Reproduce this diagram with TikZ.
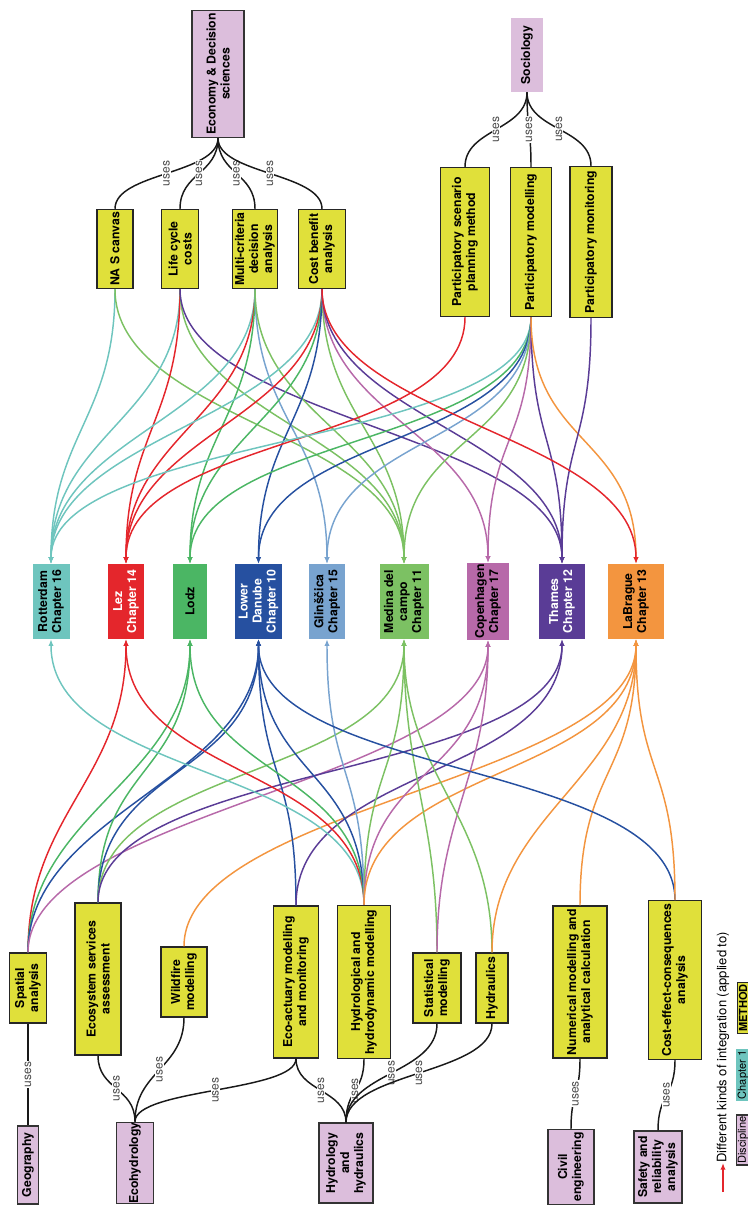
\documentclass[tikz,border=0pt]{standalone}
\usepackage{fontspec}
\setmainfont{TeX Gyre Heros}
\usetikzlibrary{arrows.meta}

\definecolor{discpink}{RGB}{220,190,220}
\definecolor{methyellow}{RGB}{224,224,58}
\definecolor{colrot}{RGB}{110,197,190}
\definecolor{collez}{RGB}{228,38,44}
\definecolor{collodz}{RGB}{75,182,100}
\definecolor{colldan}{RGB}{38,80,160}
\definecolor{colglin}{RGB}{120,163,207}
\definecolor{colmed}{RGB}{124,193,99}
\definecolor{colcop}{RGB}{183,105,169}
\definecolor{coltha}{RGB}{90,60,150}
\definecolor{collab}{RGB}{243,149,63}

% all boxes are turned by 90 degrees: .east is the top, .west the bottom
\tikzset{
  box/.style={rotate=90, align=center, inner sep=2pt, font=\fontsize{9.2}{10.5}\selectfont\bfseries},
  discipline/.style={box, draw=black!80, fill=discpink, line width=0.9pt},
  method/.style={box, draw=black!85, fill=methyellow, line width=1pt},
  chapter/.style={box, inner sep=1pt, minimum width=56.25pt},
  link/.style={->, line width=1.1pt},
  uses/.style={draw=black!90, line width=1.1pt},
  useslabel/.style={rotate=90, fill=white, inner sep=0.6pt, text=black!70, font=\fontsize{9}{10}\selectfont}
}

\begin{document}
\begin{tikzpicture}[x=0.75pt, y=-0.75pt, >={Latex[length=5pt,width=4pt]}]
  \useasboundingbox (0,0) rectangle (748,1205);

  % Disciplines
  \node[discipline, minimum width=94.5pt, minimum height=39pt] (econ) at (218,74) {Economy \& Decision\\sciences};
  \node[discipline, draw=none, minimum width=55pt, minimum height=24pt] (soc) at (527,55) {Sociology};
  \node[discipline, minimum width=58.5pt, minimum height=16pt] (geo) at (28,1165) {Geography};
  \node[discipline, inner xsep=0pt, minimum width=60pt, minimum height=28pt] (ecohyd) at (135,1163) {Ecohydrology};
  \node[discipline, minimum width=60pt, minimum height=40.5pt] (hydhyd) at (346,1163) {Hydrology\\and\\hydraulics};
  \node[discipline, minimum width=54pt, minimum height=34.5pt] (civil) at (571,1167) {Civil\\engineering};
  \node[discipline, minimum width=54pt, minimum height=36pt] (safety) at (658,1167) {Safety and\\reliability\\analysis};

  % Methods
  \node[method, minimum width=59.25pt, minimum height=27pt] (nas) at (115,249) {NA S canvas};
  \node[method, minimum width=59.25pt, minimum height=27.75pt] (lcc) at (180,249) {Life cycle\\costs};
  \node[method, minimum width=59.25pt, minimum height=32.25pt] (mcda) at (255,249) {Multi-criteria\\decision\\analysis};
  \node[method, minimum width=59.25pt, minimum height=35.25pt] (cba) at (322,249) {Cost benefit\\analysis};
  \node[method, minimum width=111.75pt, minimum height=36.75pt] (psp) at (465,242) {Participatory scenario\\planning method};
  \node[method, minimum width=111.75pt, minimum height=30.75pt] (pmod) at (531,242) {Participatory modelling};
  \node[method, minimum width=113.25pt, minimum height=31.5pt] (pmon) at (591,242) {Participatory monitoring};
  \node[method, minimum width=52.5pt, minimum height=27.75pt] (spatial) at (28,988) {Spatial\\analysis};
  \node[method, minimum width=114pt, minimum height=34.5pt] (ess) at (98,979) {Ecosystem services\\assessment};
  \node[method, minimum width=52.5pt, minimum height=34.5pt] (wild) at (184,982) {Wildfire\\modelling};
  \node[method, minimum width=114pt, minimum height=33.75pt] (eco) at (296,982) {Eco-actuary modelling\\and monitoring};
  \node[method, minimum width=114.75pt, minimum height=39.75pt] (hydro) at (364,982) {Hydrological and\\hydrodynamic modelling};
  \node[method, minimum width=52.5pt, minimum height=36pt] (stat) at (437,988) {Statistical\\modelling};
  \node[method, minimum width=52.5pt, minimum height=24pt] (hydr) at (492,988) {Hydraulics};
  \node[method, minimum width=114pt, minimum height=40.5pt] (num) at (580,982) {Numerical modelling and\\analytical calculation};
  \node[method, minimum width=117.75pt, minimum height=39.75pt] (cec) at (675,980) {Cost-effect-consequences\\analysis};

  % Chapters
  \node[chapter, fill=colrot, minimum height=27.75pt] (rot) at (51,601.5) {Rotterdam\\Chapter 16};
  \node[chapter, fill=collez, text=white, minimum height=27pt] (lez) at (126,601.5) {Lez\\Chapter 14};
  \node[chapter, fill=collodz, minimum height=25.5pt] (lodz) at (190,601.5) {Lodz};
  \node[chapter, fill=colldan, text=white, minimum height=35.25pt] (ldan) at (258.5,601.5) {Lower\\Danube\\Chapter 10};
  \node[chapter, fill=colglin, minimum height=27pt] (glin) at (327,601.5) {Glinščica\\Chapter 15};
  \node[chapter, fill=colmed, minimum height=36.75pt] (med) at (404,601.5) {Medina del\\campo\\Chapter 11};
  \node[chapter, fill=colcop, minimum height=31.5pt] (cop) at (488,601.5) {Copenhagen\\Chapter 17};
  \node[chapter, fill=coltha, text=white, minimum height=34.5pt] (tha) at (562,601.5) {Thames\\Chapter 12};
  \node[chapter, fill=collab, minimum height=42pt] (lab) at (636,601.5) {LaBrague\\Chapter 13};

  % uses
  \foreach \m in {nas, lcc, mcda, cba}
    \draw[uses] (econ.west) .. controls +(0,36) and +(0,-36) .. (\m.east) node[useslabel, midway] {uses};
  \foreach \m in {psp, pmod, pmon}
    \draw[uses] (soc.west) .. controls +(0,38) and +(0,-38) .. (\m.east) node[useslabel, midway] {uses};
  \draw[uses] (geo.east) -- (spatial.west) node[useslabel, midway] {uses};
  \foreach \m/\h in {ess/34, wild/50, eco/33}
    \draw[uses] (ecohyd.east) .. controls +(0,-\h) and +(0,\h) .. (\m.west) node[useslabel, midway] {uses};
  \foreach \m/\h in {eco/33, hydro/33, stat/50, hydr/50}
    \draw[uses] (hydhyd.east) .. controls +(0,-\h) and +(0,\h) .. (\m.west) node[useslabel, midway] {uses};
  \draw[uses] (civil.east) .. controls +(0,-37) and +(0,37) .. (num.west) node[useslabel, midway] {uses};
  \draw[uses] (safety.east) .. controls +(0,-37) and +(0,37) .. (cec.west) node[useslabel, midway] {uses};

  % Methods applied to chapters (from above)
  \foreach \m/\c in {nas/rot, nas/med, lcc/rot, lcc/lez, lcc/med, lcc/tha,
      mcda/rot, mcda/lez, mcda/lodz, mcda/glin, mcda/med,
      cba/rot, cba/lez, cba/lodz, cba/ldan, cba/med, cba/cop, cba/tha,
      psp/lez, pmod/rot, pmod/lodz, pmod/ldan, pmod/glin, pmod/med, pmod/cop,
      pmod/tha, pmod/lab, pmon/tha}
    \draw[link, draw=col\c] (\m.west) .. controls +(0,130) and +(0,-130) .. (\c.east);
  \draw[link, collez] (cba.west) .. controls +(0,130) and +(0,-130) .. (lab.east);

  % Methods applied to chapters (from below)
  \foreach \m/\c in {spatial/lez, spatial/lodz, spatial/ldan, spatial/cop,
      ess/lodz, ess/ldan, ess/med, ess/tha, wild/lab, eco/ldan, eco/tha,
      hydro/rot, hydro/lez, hydro/lodz, hydro/ldan, hydro/glin, hydro/med,
      hydro/cop, hydro/lab, stat/med, stat/cop, hydr/med, hydr/lab,
      num/lab, cec/ldan, cec/lab}
    \draw[link, draw=col\c] (\m.east) .. controls +(0,-140) and +(0,140) .. (\c.west);

  % Legend
  \node[rotate=90, anchor=west, inner sep=0pt, font=\fontsize{9.8}{11}\selectfont] (legtext) at (723,1163) {Different kinds of integration (applied to)};
  \coordinate (legfoot) at (723,1192);
  \draw[link, collez] (legfoot) -- (legtext.west);
  \node[box, draw=black!80, fill=discpink, line width=0.8pt, inner sep=1pt, font=\fontsize{8.3}{9}\selectfont] (legdisc) at (743,1140) {Discipline};
  \node[box, fill=colrot, inner sep=1.5pt, font=\fontsize{8.3}{9}\selectfont] (legchap) at (743,1075) {Chapter 1};
  \node[box, draw=black!85, fill=methyellow, line width=0.8pt, inner sep=1pt, font=\fontsize{8.3}{9}\selectfont\bfseries] (legmeth) at (743,1008) {METHOD};
\end{tikzpicture}
\end{document}
